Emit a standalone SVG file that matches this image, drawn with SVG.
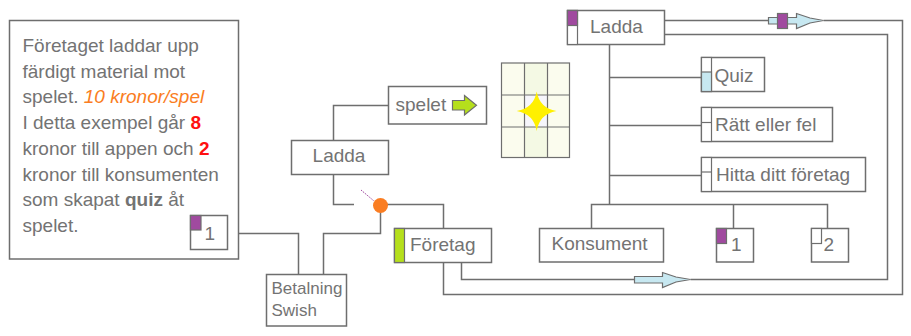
<svg xmlns="http://www.w3.org/2000/svg" width="911" height="336" viewBox="0 0 911 336">
  <defs>
    <style>
      .box { fill: #ffffff; stroke: #6e6e6e; stroke-width: 1.5; }
      .ln { fill: none; stroke: #6e6e6e; stroke-width: 1.5; }
      .thin { fill: none; stroke: #6e6e6e; stroke-width: 1.2; }
      .txt { font-family: "Liberation Sans", Arial, sans-serif; font-size: 19px; fill: #737373; }
      .small { font-size: 17px; }
      .purple { fill: #a04a9f; stroke: #6e6e6e; stroke-width: 1.2; }
      .green { fill: #b5df1c; stroke: #6e6e6e; stroke-width: 1.2; }
      .blue { fill: #c7e8f1; stroke: #6e6e6e; stroke-width: 1.2; }
      .red { fill: #ff1010; font-weight: bold; }
      .orange { fill: #fa7d22; font-style: italic; }
      .bold { font-weight: bold; }
    </style>
  </defs>

  <rect width="911" height="336" fill="#ffffff"/>

  <!-- connectors -->
  <g id="connectors">
    <polyline class="ln" points="238.5,233.5 298.5,233.5 298.5,274.5"/>
    <polyline class="ln" points="323.5,274.5 323.5,233.5 380.5,233.5 380.5,206"/>
    <polyline class="ln" points="333.5,140.5 333.5,105.5 388.5,105.5"/>
    <polyline class="ln" points="333.5,174.5 333.5,204.5 354,204.5"/>
    <polyline class="ln" points="380.5,204.5 443.5,204.5 443.5,228.5"/>
    <polyline class="ln" points="443.5,262.5 443.5,294.5 902.5,294.5 902.5,20.5 823.5,20.5"/>
    <polyline class="ln" points="664.5,20.5 768.5,20.5"/>
    <polyline class="ln" points="461.5,262.5 461.5,279.5 634.5,279.5"/>
    <polyline class="ln" points="690.5,279.5 887.5,279.5 887.5,34.5 664.5,34.5"/>
    <polyline class="ln" points="609.5,44.5 609.5,204.5"/>
    <polyline class="ln" points="609.5,77.5 701.5,77.5"/>
    <polyline class="ln" points="609.5,125.5 701.5,125.5"/>
    <polyline class="ln" points="609.5,175.5 701.5,175.5"/>
    <polyline class="ln" points="591.5,228.5 591.5,204.5 827.5,204.5 827.5,228.5"/>
    <polyline class="ln" points="733.5,204.5 733.5,228.5"/>
    <line x1="361" y1="190" x2="374" y2="201" stroke="#a04a9f" stroke-width="1" stroke-dasharray="1.5 1"/>
    <!-- block arrows on the routes -->
    <polygon class="blue" points="768.5,17.5 796.5,17.5 796.5,13.5 810,18 823.5,20.5 810,23 796.5,28.5 796.5,24 768.5,24"/>
    <rect class="purple" x="777.5" y="13.5" width="10" height="15"/>
    <polygon class="blue" points="634.5,276.5 662.5,276.5 662.5,272.5 676,277 690.5,279.5 676,282 662.5,287.5 662.5,283 634.5,283"/>
  </g>

  <!-- description panel -->
  <g id="info">
    <rect class="box" x="9.5" y="20.5" width="229" height="238.5"/>
    <text class="txt" font-size="19.5" x="22.5">
      <tspan x="22.5" y="52">Företaget laddar upp</tspan>
      <tspan x="22.5" y="77.7">färdigt material mot</tspan>
      <tspan x="22.5" y="103.4">spelet. <tspan class="orange">10 kronor/spel</tspan></tspan>
      <tspan x="22.5" y="129.1">I detta exempel går <tspan class="red">8</tspan></tspan>
      <tspan x="22.5" y="154.8">kronor till appen och <tspan class="red">2</tspan></tspan>
      <tspan x="22.5" y="180.5">kronor till konsumenten</tspan>
      <tspan x="22.5" y="206.2">som skapat <tspan class="bold">quiz</tspan> åt</tspan>
      <tspan x="22.5" y="231.9">spelet.</tspan>
    </text>
    <rect class="box" x="190.5" y="215.5" width="37" height="34"/>
    <rect class="purple" x="190.5" y="215.5" width="10.5" height="14.5"/>
    <text class="txt" x="204.5" y="239.5">1</text>
  </g>

  <g id="betalning">
    <rect class="box" x="266.5" y="274.5" width="80" height="51.5"/>
    <text class="txt small" x="271.5" y="294">Betalning</text>
    <text class="txt small" x="271.5" y="316">Swish</text>
  </g>

  <g id="payment-point">
    <circle cx="380.5" cy="205.5" r="7.5" fill="#fa7d22"/>
  </g>

  <g id="ladda-mid">
    <rect class="box" x="291.5" y="140.5" width="97" height="34"/>
    <text class="txt" x="339" y="162" text-anchor="middle">Ladda</text>
  </g>

  <g id="spelet">
    <rect class="box" x="388.5" y="86.5" width="98" height="37.5"/>
    <text class="txt" x="395.5" y="111">spelet</text>
    <polygon class="green" points="452.5,100.5 464.5,100.5 464.5,95.5 476.5,105.3 464.5,115 464.5,110 452.5,110"/>
  </g>

  <g id="board">
    <rect x="501.5" y="63" width="68" height="94.5" fill="#fbfcee"/>
    <rect x="524.5" y="63" width="23" height="94.5" fill="#f4f9e4"/>
    <rect x="524.5" y="95" width="23" height="32" fill="#f6f6fb"/>
    <rect class="thin" x="501.5" y="63" width="68" height="94.5"/>
    <line class="thin" x1="524.5" y1="63" x2="524.5" y2="157.5"/>
    <line class="thin" x1="547.5" y1="63" x2="547.5" y2="157.5"/>
    <line class="thin" x1="501.5" y1="95" x2="569.5" y2="95"/>
    <line class="thin" x1="501.5" y1="127" x2="569.5" y2="127"/>
    <path d="M536.7,91.5 Q539.5,108 556.5,111 Q539.5,114 536.7,131 Q533.9,114 516.7,111 Q533.9,108 536.7,91.5 Z" fill="#fff000"/>
  </g>

  <g id="foretag">
    <rect class="box" x="394.5" y="228.5" width="97" height="34"/>
    <rect class="green" x="394.5" y="228.5" width="10" height="34"/>
    <text class="txt" x="410" y="250.5">Företag</text>
  </g>

  <g id="ladda-top">
    <rect class="box" x="567.5" y="10.5" width="97" height="34"/>
    <rect class="box" x="567.5" y="10.5" width="10" height="34" style="stroke-width:1.2"/>
    <rect class="purple" x="567.5" y="10.5" width="10" height="15"/>
    <text class="txt" x="590" y="33">Ladda</text>
  </g>

  <g id="quiz">
    <rect class="box" x="701.5" y="57.5" width="63" height="34"/>
    <rect class="box" x="701.5" y="57.5" width="10" height="34" style="stroke-width:1.2"/>
    <rect class="blue" x="701.5" y="72" width="10" height="19.5"/>
    <text class="txt" x="714.5" y="82">Quiz</text>
  </g>

  <g id="ratt-eller-fel">
    <rect class="box" x="701.5" y="107.5" width="131" height="34"/>
    <rect class="box" x="701.5" y="107.5" width="10" height="34" style="stroke-width:1.2"/>
    <line class="thin" x1="701.5" y1="122.5" x2="711.5" y2="122.5"/>
    <text class="txt" x="715" y="131">Rätt eller fel</text>
  </g>

  <g id="hitta">
    <rect class="box" x="701.5" y="157.5" width="164" height="34"/>
    <rect class="box" x="701.5" y="157.5" width="10" height="34" style="stroke-width:1.2"/>
    <line class="thin" x1="701.5" y1="172" x2="711.5" y2="172"/>
    <text class="txt" x="716" y="181">Hitta ditt företag</text>
  </g>

  <g id="konsument">
    <rect class="box" x="539.5" y="228.5" width="124" height="33.5"/>
    <text class="txt" x="551.5" y="250">Konsument</text>
  </g>

  <g id="del-1">
    <rect class="box" x="716.5" y="228.5" width="37" height="33.5"/>
    <rect class="purple" x="716.5" y="228.5" width="10" height="15"/>
    <text class="txt" x="731" y="251">1</text>
  </g>

  <g id="del-2">
    <rect class="box" x="811.5" y="228.5" width="37" height="33.5"/>
    <rect class="box" x="811.5" y="228.5" width="10" height="15" style="stroke-width:1.2"/>
    <text class="txt" x="823.5" y="251">2</text>
  </g>
</svg>
